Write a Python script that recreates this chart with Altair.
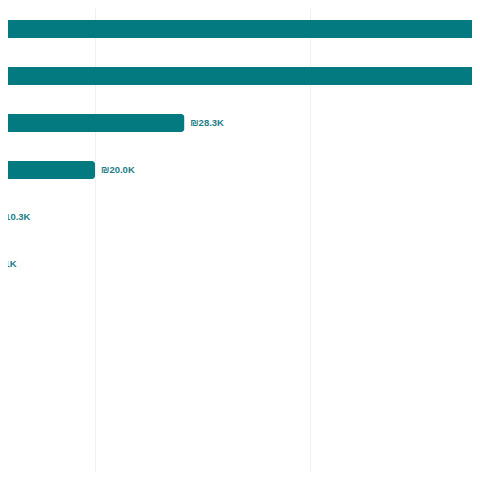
import altair as alt
import pandas as pd

categories = ["Category A", "Category B", "Category C", "Category D", "Category E", "Category F"]
values = [88000, 66000, 28300, 20000, 10300, 9010]

df = pd.DataFrame({"category": categories, "value": values})

x_scale = alt.Scale(domain=[11907, 55070], zero=False, nice=False, padding=0)
y_scale = alt.Scale(domain=[0.5532, 10.4255], reverse=True, zero=False, nice=False, padding=0)

base = alt.Chart(df).transform_window(
    rank="row_number()"
).encode(
    y=alt.Y("rank:Q", scale=y_scale, axis=None),
)

bars = base.mark_bar(color="#037980", orient="horizontal", size=18,
                     cornerRadiusTopRight=3, cornerRadiusBottomRight=3, clip=True).encode(
    x=alt.X("value:Q", scale=x_scale,
            axis=alt.Axis(values=[20000, 40000], labels=False, ticks=False, domain=False,
                          title=None, grid=True, gridColor="#efefef", gridWidth=1)),
    x2=alt.X2(datum=0),
    detail="category:N",
)

labels = base.mark_text(align="left", baseline="middle", dx=6, fontSize=9.5, fontWeight="bold",
                        font="Liberation Sans", color="#1c7e85", clip=True).transform_calculate(
    label="'₪' + replace(format(datum.value, '.3s'), 'k', 'K')"
).encode(
    x=alt.X("value:Q", scale=x_scale),
    text="label:N",
)

chart = alt.layer(bars, labels).properties(
    width=464, height=464, padding=0
).configure_view(stroke=None)

chart.save("out.html", embed_options={"renderer": "svg", "actions": False})
